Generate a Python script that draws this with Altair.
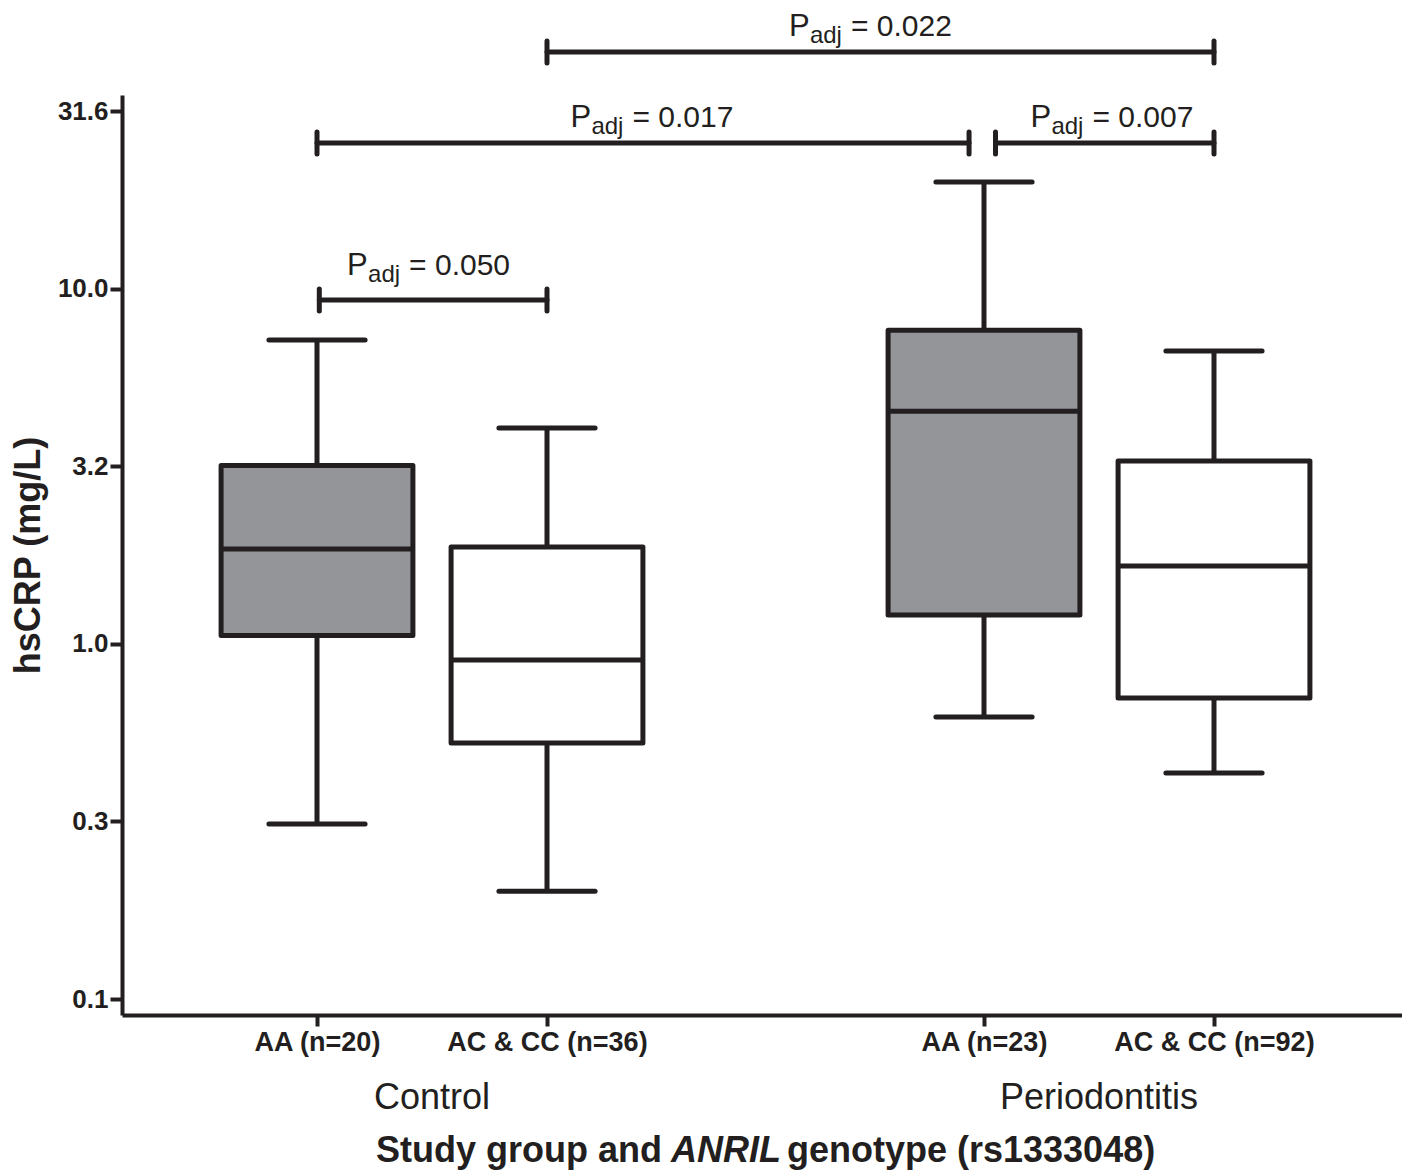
import altair as alt
import pandas as pd

# ---------------- data ----------------
groups = ["Control", "Control", "Periodontitis", "Periodontitis"]
genotypes = ["AA (n=20)", "AC & CC (n=36)", "AA (n=23)", "AC & CC (n=92)"]
genotype_kind = ["AA", "AC & CC", "AA", "AC & CC"]
index_in_group = [1, 2, 1, 2]
group_offset = {"Control": 0.0, "Periodontitis": 2.9}

whisker_low = [0.311, 0.201, 0.622, 0.433]
q1 = [1.055, 0.526, 1.205, 0.704]
median = [1.849, 0.900, 4.52, 1.656]
q3 = [3.177, 1.873, 7.64, 3.27]
whisker_high = [7.17, 4.05, 19.95, 6.67]

# significance annotations
p_values = ["0.050", "0.017", "0.007", "0.022"]
bracket_from = [1.01, 1.0, 3.95, 2.0]
bracket_to = [2.0, 3.835, 4.9, 4.9]
bracket_level = [9.29, 25.7, 25.7, 46.4]
label_x = [1.483, 2.454, 4.454, 3.404]
label_level = [10.9, 28.5, 28.5, 51.4]

y_ticks = [0.1, 0.31623, 1.0, 3.1623, 10.0, 31.623]

# ---------------- styling ----------------
INK = "#231f20"
GREY = "#939598"
FONT = "Liberation Sans"
LW = 5
BOX_HALF = 0.417
CAP_HALF = 0.209
END_FACTOR = 1.074
PLOT_W = 1280

pos = [i + group_offset[g] for i, g in zip(index_in_group, groups)]

df = pd.DataFrame({
    "group": groups, "genotype": genotypes, "kind": genotype_kind, "pos": pos,
    "lo": whisker_low, "q1": q1, "med": median, "q3": q3, "hi": whisker_high,
})
ann = pd.DataFrame({
    "p": p_values, "x1": bracket_from, "x2": bracket_to, "lev": bracket_level,
    "lx": label_x, "ly": label_level,
})

x_dom = [0.15217, 0.15217 + PLOT_W / 230.0]
y_dom = [0.09015, 35.09]

xscale = alt.Scale(domain=x_dom, nice=False, zero=False)
yscale = alt.Scale(type="log", domain=y_dom, nice=False)

label_expr = " : ".join(
    f"abs(datum.value - {p}) < 0.01 ? '{g}'" for p, g in zip(pos, genotypes)
) + " : ''"

x_axis = alt.Axis(values=pos, labelExpr=label_expr, title=None, grid=False,
                  domainColor=INK, domainWidth=4, tickColor=INK, tickWidth=4,
                  tickSize=11, labelFont=FONT, labelFontSize=27, labelLimit=0,
                  labelFontWeight="bold", labelColor=INK, labelPadding=3)
y_axis = alt.Axis(values=y_ticks, format=".1f", title="hsCRP (mg/L)", grid=False,
                  domainColor=INK, domainWidth=4, tickColor=INK, tickWidth=4,
                  tickSize=12, labelFont=FONT, labelFontSize=26,
                  labelFontWeight="bold", labelColor=INK, labelPadding=2,
                  titleFont=FONT, titleFontSize=36, titleFontWeight="bold",
                  titleColor=INK, titlePadding=10)

base = alt.Chart(df)

whisk = base.mark_rule(color=INK, strokeWidth=LW).encode(
    x=alt.X("pos:Q", scale=xscale, axis=x_axis),
    y=alt.Y("lo:Q", scale=yscale, axis=y_axis),
    y2="hi:Q",
)
cap_lo = base.transform_calculate(
    a=f"datum.pos - {CAP_HALF}", b=f"datum.pos + {CAP_HALF}"
).mark_rule(color=INK, strokeWidth=LW, strokeCap="round").encode(
    x=alt.X("a:Q", scale=xscale), x2="b:Q", y=alt.Y("lo:Q", scale=yscale))
cap_hi = base.transform_calculate(
    a=f"datum.pos - {CAP_HALF}", b=f"datum.pos + {CAP_HALF}"
).mark_rule(color=INK, strokeWidth=LW, strokeCap="round").encode(
    x=alt.X("a:Q", scale=xscale), x2="b:Q", y=alt.Y("hi:Q", scale=yscale))

box = base.transform_calculate(
    a=f"datum.pos - {BOX_HALF}", b=f"datum.pos + {BOX_HALF}"
).mark_rect(stroke=INK, strokeWidth=LW, strokeJoin="round").encode(
    x=alt.X("a:Q", scale=xscale), x2="b:Q",
    y=alt.Y("q1:Q", scale=yscale), y2="q3:Q",
    fill=alt.Fill("kind:N", scale=alt.Scale(domain=["AA", "AC & CC"],
                                            range=[GREY, "#ffffff"]), legend=None),
)
med = base.transform_calculate(
    a=f"datum.pos - {BOX_HALF}", b=f"datum.pos + {BOX_HALF}"
).mark_rule(color=INK, strokeWidth=LW).encode(
    x=alt.X("a:Q", scale=xscale), x2="b:Q", y=alt.Y("med:Q", scale=yscale))

# brackets
abase = alt.Chart(ann)
br_h = abase.mark_rule(color=INK, strokeWidth=LW, strokeCap="round").encode(
    x=alt.X("x1:Q", scale=xscale), x2="x2:Q", y=alt.Y("lev:Q", scale=yscale))
ends = abase.transform_fold(["x1", "x2"], as_=["end", "ex"]).transform_calculate(
    ylo=f"datum.lev / {END_FACTOR}", yhi=f"datum.lev * {END_FACTOR}"
).mark_rule(color=INK, strokeWidth=LW, strokeCap="round").encode(
    x=alt.X("ex:Q", scale=xscale), y=alt.Y("ylo:Q", scale=yscale), y2="yhi:Q")

txt_kw = dict(font=FONT, color=INK, align="left", baseline="alphabetic")
t_p = abase.mark_text(fontSize=31, dx=-81, text="P", **txt_kw).encode(
    x=alt.X("lx:Q", scale=xscale), y=alt.Y("ly:Q", scale=yscale))
t_adj = abase.mark_text(fontSize=24, dx=-60, dy=7, text="adj", **txt_kw).encode(
    x=alt.X("lx:Q", scale=xscale), y=alt.Y("ly:Q", scale=yscale))
t_eq = abase.transform_calculate(lab="'= ' + datum.p").mark_text(
    fontSize=30, dx=-19, **txt_kw).encode(
    x=alt.X("lx:Q", scale=xscale), y=alt.Y("ly:Q", scale=yscale), text="lab:N")

# group labels
grp = base.transform_aggregate(c="mean(pos)", groupby=["group"]).mark_text(
    font=FONT, fontSize=36, color=INK, align="center", baseline="alphabetic"
).encode(x=alt.X("c:Q", scale=xscale), y=alt.value(1014), text="group:N")

# x title with italic gene name
title_df = pd.DataFrame({"t1": ["Study group and"], "t2": ["ANRIL"],
                         "t3": ["genotype (rs1333048)"]})
tb = alt.Chart(title_df)
TY = 1067
tkw = dict(font=FONT, fontSize=36, fontWeight="bold", color=INK, baseline="alphabetic")
ti1 = tb.mark_text(align="right", **tkw).encode(x=alt.value(540), y=alt.value(TY), text="t1:N")
ti2 = tb.mark_text(align="left", fontStyle="italic", **tkw).encode(
    x=alt.value(549), y=alt.value(TY), text="t2:N")
ti3 = tb.mark_text(align="left", **tkw).encode(x=alt.value(665), y=alt.value(TY), text="t3:N")

chart = alt.layer(
    whisk, cap_lo, cap_hi, box, med, br_h, ends, t_p, t_adj, t_eq, grp, ti1, ti2, ti3
).properties(
    width=PLOT_W, height=920,
    autosize=alt.AutoSizeParams(type="none"),
    padding={"left": 114, "top": 87, "right": 0, "bottom": 158},
    background="white",
).configure_view(strokeWidth=0)

chart.save("out.html", embed_options={"renderer": "svg", "actions": False})
